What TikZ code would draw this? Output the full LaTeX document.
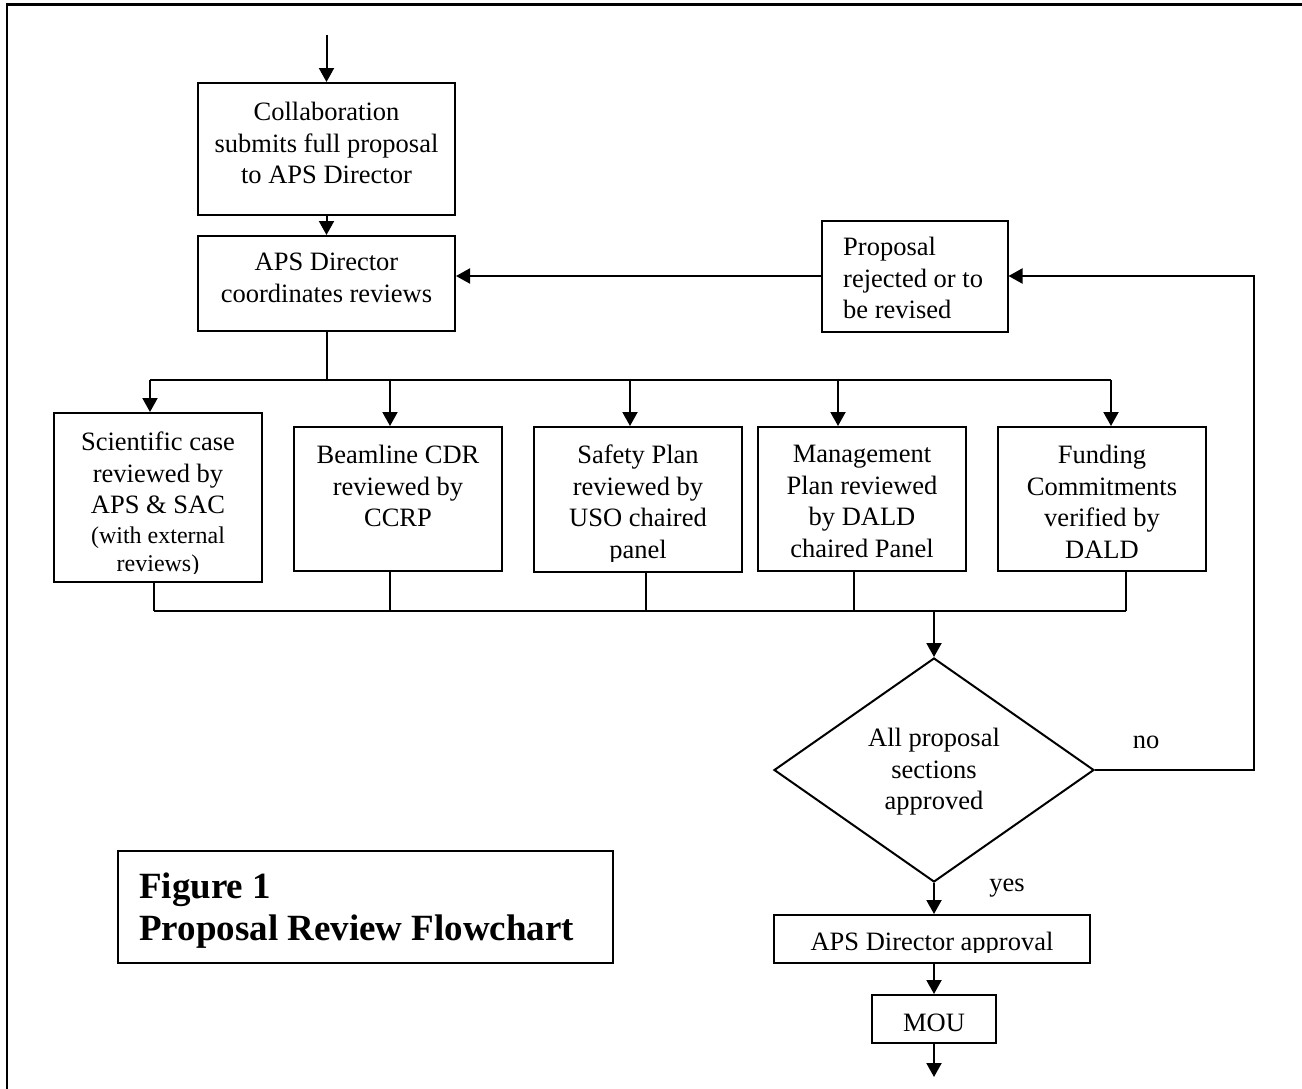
\documentclass[tikz,border=0pt]{standalone}
\usepackage{fontspec}
\setmainfont{Liberation Serif}
\usetikzlibrary{shapes.geometric,arrows.meta}
\begin{document}
\begin{tikzpicture}[x=1pt,y=-1pt,
  box/.style={draw,line width=2pt,inner sep=0pt,rectangle},
  txt/.style={inner sep=0pt,align=center,anchor=north,font=\fontsize{26.5}{31.5}\selectfont},
  smalltxt/.style={inner sep=0pt,align=center,anchor=north,font=\fontsize{24}{28}\selectfont},
  lbltxt/.style={inner sep=0pt,anchor=base,font=\fontsize{26.5}{31.5}\selectfont},
  arr/.style={line width=2pt,-{Triangle[length=14pt,width=15pt]}},
  wire/.style={line width=2pt}]
\useasboundingbox (0,0) rectangle (1302,1088);
% outer frame
\draw[line width=2.5pt] (7,1095) -- (7,4.5) -- (1310,4.5);

% top boxes
\node[box,minimum width=257pt,minimum height=132pt] (b1) at (326.5,149) {};
\node[txt] (t1) at (326.5,102) {Collaboration\\submits full proposal\\to APS Director};
\node[box,minimum width=257pt,minimum height=95pt] (b2) at (326.5,283.5) {};
\node[txt] (t2) at (326.5,253) {APS Director\\coordinates reviews};
\node[box,minimum width=186pt,minimum height=111pt] (rej) at (914.5,276) {};
\node[txt,anchor=north west,align=left] (t3) at (843,237) {Proposal\\rejected or to\\be revised};

% review boxes
\node[box,minimum width=208pt,minimum height=169pt] (sci) at (158,497.5) {};
\node[txt] (t4) at (158,432) {Scientific case\\reviewed by\\APS \& SAC};
\begin{scope}
  \clip (56,414) rectangle (260,573.5);
  \node[smalltxt] (t4b) at (158,527) {(with external\\reviews)};
\end{scope}
\node[box,minimum width=208pt,minimum height=144pt] (beam) at (398,499) {};
\node[txt] (t5) at (398,445) {Beamline CDR\\reviewed by\\CCRP};
\node[box,minimum width=208pt,minimum height=145pt] (safe) at (638,499.5) {};
\begin{scope}
  \clip (536,428) rectangle (740,561);
  \node[txt] (t6) at (638,445) {Safety Plan\\reviewed by\\USO chaired\\panel};
\end{scope}
\node[box,minimum width=208pt,minimum height=144pt] (mgmt) at (862,499) {};
\node[txt] (t7) at (862,445) {Management\\Plan reviewed\\by DALD\\chaired Panel};
\node[box,minimum width=208pt,minimum height=144pt] (fund) at (1102,499) {};
\node[txt] (t8) at (1102,445) {Funding\\Commitments\\verified by\\DALD};

% decision
\node[diamond,draw,line width=2pt,inner sep=0pt,minimum width=320pt,minimum height=224pt] (dia) at (934,770) {};
\node[txt] (t9) at (934,728) {All proposal\\sections\\approved};
\node[lbltxt] (no) at (1146,748) {no};
\node[lbltxt] (yes) at (1007,891) {yes};

% bottom
\node[box,minimum width=316pt,minimum height=48pt] (appr) at (932,939) {};
\begin{scope}
  \clip (776,916) rectangle (1088,952.5);
  \node[lbltxt] (t10) at (932,950.5) {APS Director approval};
\end{scope}
\node[box,minimum width=124pt,minimum height=48pt] (mou) at (934,1019) {};
\node[lbltxt] (t11) at (934,1031.5) {MOU};

% figure caption box
\node[box,minimum width=495pt,minimum height=112pt] (fig) at (365.5,907) {};
\node[inner sep=0pt,anchor=north west,align=left,font=\fontsize{37}{42}\selectfont\bfseries] (figt) at (139,873) {Figure 1\\Proposal Review Flowchart};

% coordinates
\coordinate (start) at (326.5,35);
\coordinate (u1) at (150,380);
\coordinate (u2) at (390,380);
\coordinate (u3) at (630,380);
\coordinate (u4) at (838,380);
\coordinate (u5) at (1111,380);
\coordinate (l1) at (154,611);
\coordinate (l2) at (390,611);
\coordinate (l3) at (646,611);
\coordinate (l4) at (854,611);
\coordinate (l5) at (1126,611);
\coordinate (lp) at (1253.5,0);
\coordinate (endpt) at (934,1077);

% connectors
\draw[arr] (start) -- (b1.north);
\draw[arr] (b1.south) -- (b2.north);
\draw[arr] (rej.west) -- (rej.west -| b2.east);
\draw[wire] (b2.south) -- (b2.south |- u1);
\draw[wire] (u1) -- (u5);
\draw[arr] (u1) -- (u1 |- sci.north);
\draw[arr] (u2) -- (u2 |- beam.north);
\draw[arr] (u3) -- (u3 |- safe.north);
\draw[arr] (u4) -- (u4 |- mgmt.north);
\draw[arr] (u5) -- (u5 |- fund.north);
\draw[wire] (l1 |- sci.south) -- (l1);
\draw[wire] (l2 |- beam.south) -- (l2);
\draw[wire] (l3 |- safe.south) -- (l3);
\draw[wire] (l4 |- mgmt.south) -- (l4);
\draw[wire] (l5 |- fund.south) -- (l5);
\draw[wire] (l1) -- (l5);
\draw[arr] (dia.north |- l1) -- (dia.north);
\draw[arr] (dia.east) -| (lp |- rej.east) -- (rej.east);
\draw[arr] (dia.south) -- (appr.north -| dia.south);
\draw[arr] (appr.south -| dia.south) -- (mou.north);
\draw[arr] (mou.south) -- (endpt);
\end{tikzpicture}
\end{document}
